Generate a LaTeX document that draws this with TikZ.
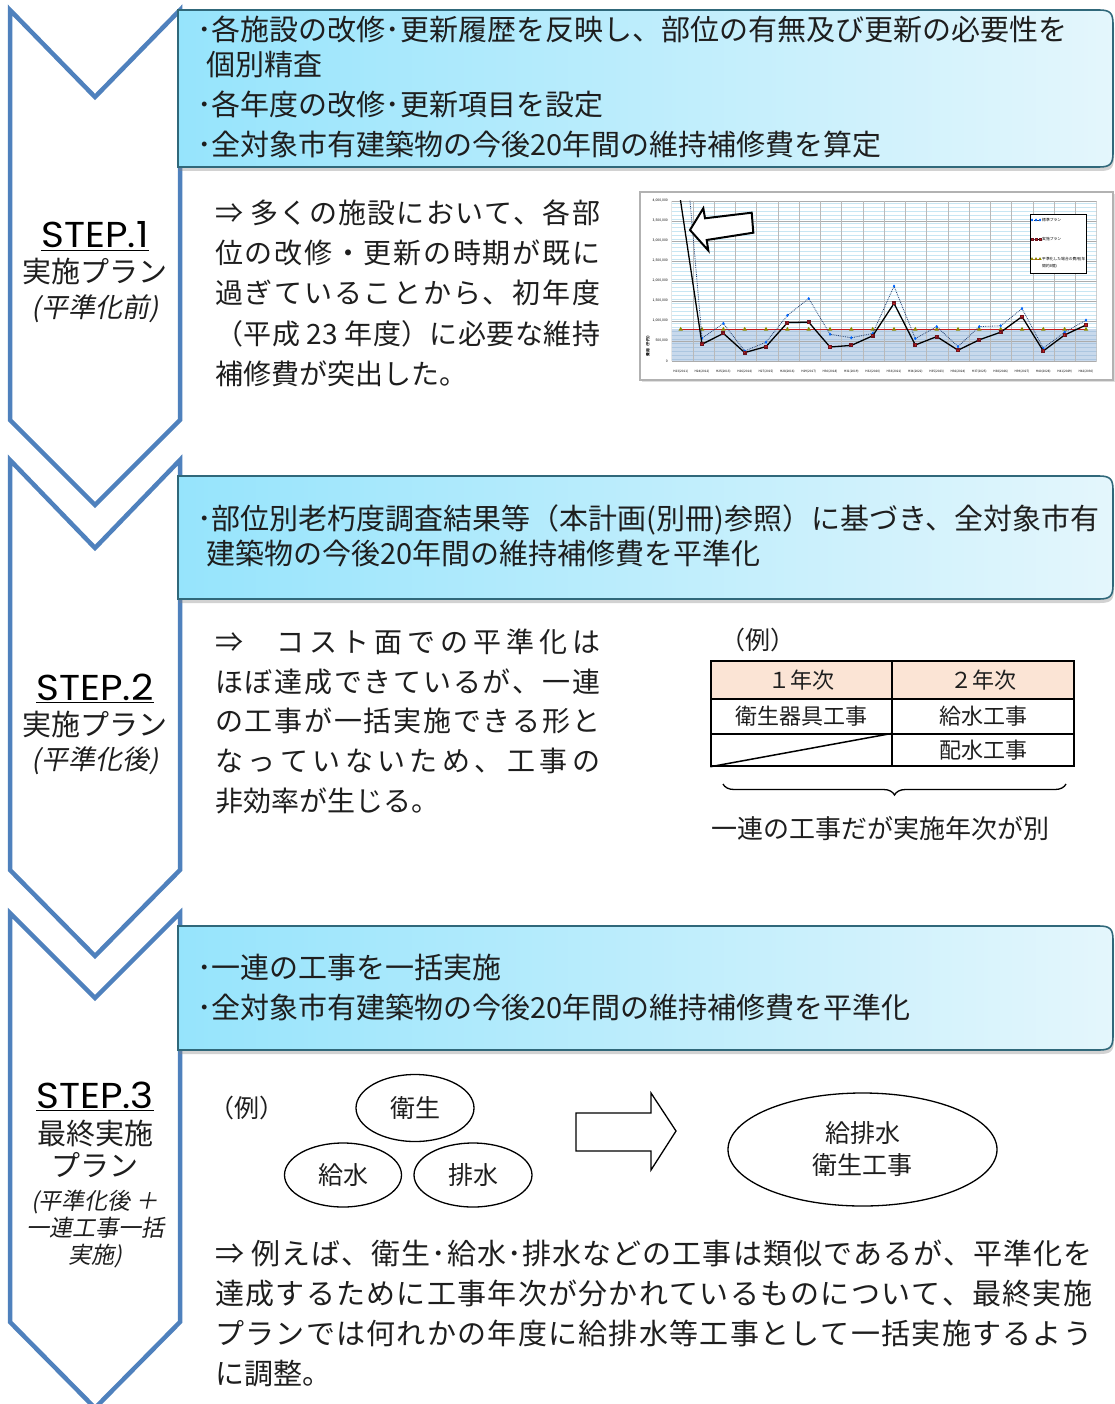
\documentclass[tikz,border=0pt]{standalone}
\usepackage{fontspec}
\setmainfont{Noto Sans CJK JP}
\newfontfamily\jpit[FakeSlant=0.2]{Noto Sans CJK JP}
\newfontfamily\stepfont{Poppins}
\usetikzlibrary{shapes.geometric,shadows,decorations.pathreplacing,plotmarks}
\definecolor{chevblue}{RGB}{79,129,189}
\definecolor{boxL}{RGB}{150,228,252}
\definecolor{boxR}{RGB}{228,246,252}
\definecolor{boxB}{RGB}{48,104,122}
\definecolor{peach}{RGB}{251,228,213}
\definecolor{stripeA}{RGB}{200,230,243}
\definecolor{avgfill}{RGB}{200,217,236}
\definecolor{stripeB}{RGB}{172,198,224}
\definecolor{avgred}{RGB}{200,30,30}
\definecolor{darkred}{RGB}{110,20,30}
\definecolor{dotblue}{RGB}{30,60,110}
\definecolor{txt}{RGB}{30,30,30}

\def\spEndTok{\spEnd}
\def\spFirst#1{#1\spLoop}
\def\spLoop#1{\def\spTmp{#1}\ifx\spTmp\spEndTok\else\hfill#1\expandafter\spLoop\fi}
\newcommand\spreadline[2]{\makebox[#1][s]{\spFirst#2\spEnd}}
\newcommand\stepwide[1]{\scalebox{1.08}[1]{#1}}

\begin{document}
\begin{tikzpicture}[x=1pt,y=-1pt,
  chev/.style={draw=chevblue, line width=4.5pt, fill=white, line join=miter},
  bluebox/.style={left color=boxL, right color=boxR, draw=boxB, line width=1.6pt,
    drop shadow={shadow xshift=1pt, shadow yshift=-4pt, opacity=0.35}},
  boxtext/.style={anchor=base west, inner sep=0, text=txt, font=\fontsize{29}{35}\selectfont},
  body/.style={anchor=base west, inner sep=0, text=txt, font=\fontsize{28}{34}\selectfont},
  bodyb/.style={anchor=base west, inner sep=0, text=txt, font=\fontsize{29}{35}\selectfont},
  steptitle/.style={anchor=base, inner sep=0, text=black, font=\stepfont\fontsize{36}{42}\selectfont},
  stepsub/.style={anchor=base, inner sep=0, text=txt, font=\fontsize{29}{35}\selectfont},
  stepit/.style={anchor=base, inner sep=0, text=txt, font=\jpit\fontsize{27}{32}\selectfont},
  stepits/.style={anchor=base, inner sep=0, text=txt, font=\jpit\fontsize{23}{28}\selectfont},
  cell/.style={draw=black, line width=1.5pt, inner sep=0, text=txt, font=\fontsize{22}{26}\selectfont},
  oval/.style={ellipse, draw=black, line width=1.3pt, inner sep=0, text=txt, font=\fontsize{25}{32}\selectfont},
  tiny/.style={inner sep=0, text=black, font=\fontsize{3.4}{4}\selectfont},
  legtxt/.style={anchor=west, inner sep=0, text=black, font=\fontsize{3.8}{4.6}\selectfont}
]
\useasboundingbox (0,0) rectangle (1115,1404);
\fill[white] (0,0) rectangle (1115,1404);

% ---------- chevrons ----------
\draw[chev] (10,10) -- (95,97) -- (180,10) -- (180,420) -- (95,505) -- (10,420) -- cycle;
\draw[chev] (10,460) -- (95,548) -- (180,460) -- (180,870) -- (95,956) -- (10,870) -- cycle;
\draw[chev] (10,913) -- (95,998) -- (180,913) -- (180,1322) -- (95,1408) -- (10,1322) -- cycle;

% ---------- blue boxes ----------
\path[bluebox] (178,10) -- (1099,10) .. controls (1110,10) and (1113,13) .. (1113,24)
  -- (1113,153) .. controls (1113,164) and (1110,167) .. (1099,167) -- (178,167) -- cycle;
\path[bluebox] (178,476) -- (1099,476) .. controls (1110,476) and (1113,479) .. (1113,490)
  -- (1113,585) .. controls (1113,596) and (1110,599) .. (1099,599) -- (178,599) -- cycle;
\path[bluebox] (178,926) -- (1099,926) .. controls (1110,926) and (1113,929) .. (1113,940)
  -- (1113,1036) .. controls (1113,1047) and (1110,1050) .. (1099,1050) -- (178,1050) -- cycle;

\node[boxtext] (b1a) at (197,41) {･各施設の改修･更新履歴を反映し、部位の有無及び更新の必要性を};
\node[boxtext] (b1b) at (206,76) {個別精査};
\node[boxtext] (b1c) at (197,116) {･各年度の改修･更新項目を設定};
\node[boxtext] (b1d) at (197,156) {･全対象市有建築物の今後20年間の維持補修費を算定};

\node[boxtext] (b2a) at (197,529) {･部位別老朽度調査結果等（本計画(別冊)参照）に基づき、全対象市有};
\node[boxtext] (b2b) at (206,564) {建築物の今後20年間の維持補修費を平準化};

\node[boxtext] (b3a) at (197,978) {･一連の工事を一括実施};
\node[boxtext] (b3b) at (197,1018) {･全対象市有建築物の今後20年間の維持補修費を平準化};

% ---------- step labels ----------
\node[steptitle] (s1) at (95,248) {\stepwide{STEP.1}};
\draw[line width=1.8pt] ([yshift=-2.5pt]s1.base west) -- ([yshift=-2.5pt]s1.base east);
\node[stepsub] (s1b) at (95,283) {実施プラン};
\node[stepit] (s1c) at (95,317) {(平準化前)};

\node[steptitle] (s2) at (95,700) {\stepwide{STEP.2}};
\draw[line width=1.8pt] ([yshift=-2.5pt]s2.base west) -- ([yshift=-2.5pt]s2.base east);
\node[stepsub] (s2b) at (95,735) {実施プラン};
\node[stepit] (s2c) at (95,769) {(平準化後)};

\node[steptitle] (s3) at (95,1108) {\stepwide{STEP.3}};
\draw[line width=1.8pt] ([yshift=-2.5pt]s3.base west) -- ([yshift=-2.5pt]s3.base east);
\node[stepsub] (s3b) at (95,1144) {最終実施};
\node[stepsub] (s3c) at (95,1176) {プラン};
\node[stepits] (s3d) at (95,1209) {(平準化後 ＋};
\node[stepits] (s3e) at (95,1236) {一連工事一括};
\node[stepits] (s3f) at (95,1263) {実施)};

% ---------- step 1 text ----------
\node[body] (t1a) at (215,224) {\spreadline{385pt}{{⇒\ }多くの施設において、各部}};
\node[body] (t1b) at (215,264) {\spreadline{385pt}{位の改修・更新の時期が既に}};
\node[body] (t1c) at (215,304) {\spreadline{385pt}{過ぎていることから、初年度}};
\node[body] (t1d) at (215,344) {\spreadline{385pt}{（平成{ 23 }年度）に必要な維持}};
\node[body] (t1e) at (215,384) {補修費が突出した。};

% ---------- chart ----------
\node[draw=gray!60, line width=1.5pt, fill=white, minimum width=473pt, minimum height=188pt, inner sep=0,
  drop shadow={shadow xshift=2pt, shadow yshift=-2pt, opacity=0.25}] (chart) at (876.5,286) {};
\begin{scope}
\clip (671.7,201) rectangle (1096.7,361);
\foreach \k in {0,...,39} \draw[stripeA, line width=0.8pt] (671.7,{203+4*\k}) -- (1096.7,{203+4*\k});
\fill[avgfill] (671.7,329.4) rectangle (1096.7,361);
\foreach \k in {0,...,7} \draw[stripeB, line width=0.8pt] (671.7,{331+4*\k}) -- (1096.7,{331+4*\k});
\foreach \k in {0,...,8} \draw[gray!65, line width=0.9pt] (671.7,{201+20*\k}) -- (1096.7,{201+20*\k});
\foreach \k in {0,...,20} \draw[gray!55, line width=0.9pt] ({671.7+21.25*\k},201) -- ({671.7+21.25*\k},361);
\draw[avgred, line width=1.2pt] plot[mark=triangle*, mark size=1.4pt, mark options={fill=yellow!70!green, draw=olive}]
  coordinates {(680.7,329.4) (702.0,329.4) (723.4,329.4) (744.7,329.4) (766.0,329.4) (787.4,329.4) (808.7,329.4)
  (830.0,329.4) (851.3,329.4) (872.7,329.4) (894.0,329.4) (915.3,329.4) (936.7,329.4) (958.0,329.4) (979.3,329.4)
  (1000.7,329.4) (1022.0,329.4) (1043.3,329.4) (1064.6,329.4) (1086.0,329.4)};
\draw[dotblue, line width=0.8pt, densely dotted] plot coordinates {(680.7,94.9) (702.0,338.2) (723.4,323.4) (744.7,351) (766.0,342.2)
  (787.4,315.4) (808.7,298.6) (830.0,334.2) (851.3,337.8) (872.7,333.4) (894.0,286.2) (915.3,338.6) (936.7,326.6)
  (958.0,346.6) (979.3,326.6) (1000.7,325.8) (1022.0,308.6) (1043.3,348.2) (1064.6,332.2) (1086.0,320.2)};
\path plot[mark=diamond*, mark size=1.3pt, mark options={fill=blue!60!cyan, draw=blue!60!cyan}] coordinates {(702.0,338.2) (723.4,323.4) (744.7,351) (766.0,342.2)
  (787.4,315.4) (808.7,298.6) (830.0,334.2) (851.3,337.8) (872.7,333.4) (894.0,286.2) (915.3,338.6) (936.7,326.6)
  (958.0,346.6) (979.3,326.6) (1000.7,325.8) (1022.0,308.6) (1043.3,348.2) (1064.6,332.2) (1086.0,320.2)};
\draw[black, line width=1.3pt] plot[mark=square*, mark size=1.3pt, mark options={fill=avgred, draw=darkred}]
  coordinates {(680.0,197) (702.0,344.2) (723.4,333.4) (744.7,352.6) (766.0,346.6) (787.4,322.6) (808.7,322.2)
  (830.0,347) (851.3,345.4) (872.7,335.8) (894.0,303.4) (915.3,345) (936.7,336.6) (958.0,350.2) (979.3,339.8)
  (1000.7,332.2) (1022.0,316.6) (1043.3,351) (1064.6,335) (1086.0,325)};
\end{scope}
% y axis labels
\foreach \k/\lab in {0/0,1/{500,000},2/{1,000,000},3/{1,500,000},4/{2,000,000},5/{2,500,000},6/{3,000,000},7/{3,500,000},8/{4,000,000}}
  \node[tiny, anchor=east] (yl\k) at (668,{361-20*\k}) {\lab};
\node[tiny, rotate=90, font=\bfseries\fontsize{3.8}{4}\selectfont] (ytitle) at (648,345) {費用（千円）};
% x axis labels
\foreach \i in {0,...,19}
  \node[tiny, font=\fontsize{3.1}{4}\selectfont] (xl\i) at ({680.7+21.33*\i},372) {H\the\numexpr23+\i\relax(\the\numexpr2011+\i\relax)};
% legend
\node[draw=black, fill=white, line width=0.8pt, minimum width=56pt, minimum height=59pt, inner sep=0] (legend) at (1058,243.5) {};
\draw[dotblue, densely dotted, line width=0.6pt] plot[mark=diamond*, mark size=1pt, mark options={solid, fill=blue!60!cyan, draw=blue!60!cyan}] coordinates {(1032,220) (1036,220) (1040,220)};
\node[legtxt] (lg1) at (1042,220) {標準プラン};
\draw[black, line width=0.9pt] plot[mark=square*, mark size=1pt, mark options={fill=avgred, draw=darkred}] coordinates {(1032,239) (1036,239) (1040,239)};
\node[legtxt] (lg2) at (1042,239) {実施プラン};
\draw[avgred, line width=0.9pt] plot[mark=triangle*, mark size=1pt, mark options={fill=yellow!70!green, draw=olive}] coordinates {(1032,259) (1036,259) (1040,259)};
\node[legtxt] (lg3) at (1042,259) {平準化した場合の費用(年};
\node[legtxt] (lg4) at (1042,266) {間約8億)};
% big arrow in chart
\draw[black, line width=2pt, fill=white, line join=miter] (690,230) -- (703.3,208.3) -- (705,218.3) -- (751.7,212.7)
  -- (753.3,232.7) -- (706.7,240) -- (708.3,250.5) -- cycle;

% ---------- step 2 text ----------
\node[body] (t2a) at (215,652) {\spreadline{385pt}{{⇒　}コスト面での平準化は}};
\node[body] (t2b) at (215,692) {\spreadline{385pt}{ほぼ達成できているが、一連}};
\node[body] (t2c) at (215,731) {\spreadline{385pt}{の工事が一括実施できる形と}};
\node[body] (t2d) at (215,771) {\spreadline{385pt}{なっていないため、工事の}};
\node[body] (t2e) at (215,811) {非効率が生じる。};

% table
\node[anchor=center, inner sep=0, text=txt, font=\fontsize{25}{30}\selectfont] (ex2) at (758,640) {（例）};
\node[cell, fill=peach, minimum width=181pt, minimum height=38pt] (c11) at (801.5,680) {１年次};
\node[cell, fill=peach, minimum width=182pt, minimum height=38pt] (c12) at (983,680) {２年次};
\node[cell, minimum width=181pt, minimum height=35pt] (c21) at (801.5,716.5) {衛生器具工事};
\node[cell, minimum width=182pt, minimum height=35pt] (c22) at (983,716.5) {給水工事};
\node[cell, minimum width=181pt, minimum height=32pt] (c31) at (801.5,750) {};
\node[cell, minimum width=182pt, minimum height=32pt] (c32) at (983,750) {配水工事};
\draw[line width=1.5pt] (c31.south west) -- (c31.north east);
\coordinate (brL) at (723,784);
\coordinate (brR) at (1066,784);
\draw[line width=1.3pt, decorate, decoration={brace, mirror, amplitude=11pt}] (brL) -- (brR);
\node[inner sep=0, text=txt, font=\fontsize{26}{30}\selectfont] (cap2) at (880,829) {一連の工事だが実施年次が別};

% ---------- step 3 diagram ----------
\node[inner sep=0, text=txt, font=\fontsize{25}{30}\selectfont] (ex3) at (247,1108) {（例）};
\node[oval, minimum width=118pt, minimum height=67pt] (e1) at (415,1108) {衛生};
\node[oval, minimum width=117pt, minimum height=64pt] (e2) at (343,1175) {給水};
\node[oval, minimum width=118pt, minimum height=64pt] (e3) at (473,1175) {排水};
\draw[black, line width=1.3pt, fill=white, line join=miter] (576,1113) -- (651,1113) -- (651,1093) -- (676,1131)
  -- (651,1170) -- (651,1151) -- (576,1151) -- cycle;
\node[oval, minimum width=269pt, minimum height=113pt, align=center] (e4) at (862.5,1149.5) {給排水\\衛生工事};

% ---------- step 3 text ----------
\node[bodyb] (t3a) at (215,1264) {\spreadline{877pt}{{⇒\ }例えば、衛生･給水･排水などの工事は類似であるが、平準化を}};
\node[bodyb] (t3b) at (215,1304) {\spreadline{877pt}{達成するために工事年次が分かれているものについて、最終実施}};
\node[bodyb] (t3c) at (215,1344) {\spreadline{877pt}{プランでは何れかの年度に給排水等工事として一括実施するよう}};
\node[bodyb] (t3d) at (215,1384) {に調整。};
\end{tikzpicture}
\end{document}
